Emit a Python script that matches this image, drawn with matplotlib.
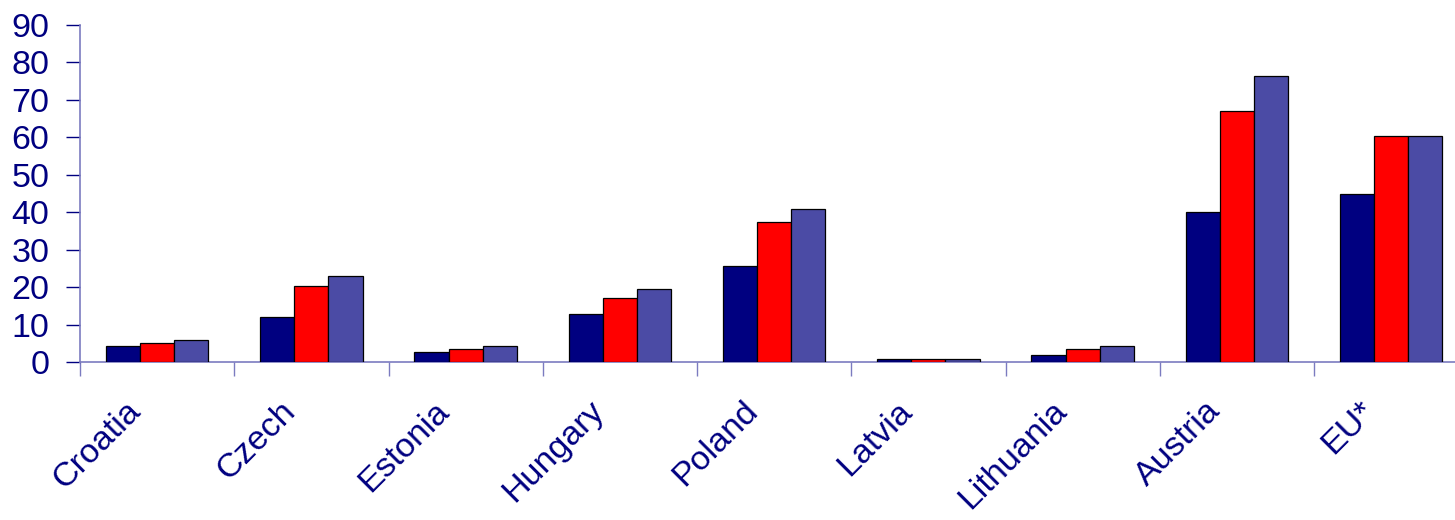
import matplotlib
matplotlib.use("Agg")
import matplotlib.pyplot as plt
from matplotlib.transforms import ScaledTranslation
import numpy as np

categories = ["Croatia", "Czech", "Estonia", "Hungary", "Poland", "Latvia", "Lithuania", "Austria", "EU*"]
series1 = [4.3, 12.0, 2.7, 12.8, 25.6, 0.7, 1.9, 40.0, 45.0]
series2 = [5.1, 20.4, 3.5, 17.1, 37.4, 0.7, 3.5, 67.0, 60.3]
series3 = [5.9, 23.0, 4.3, 19.5, 40.9, 0.7, 4.3, 76.4, 60.3]
yticks = [0, 10, 20, 30, 40, 50, 60, 70, 80, 90]

colors = ["#000080", "#FF0000", "#4B4BA5"]
text_color = "#000080"
spine_color = "#7B7BC0"

plt.rcParams['font.family'] = ['Liberation Sans', 'DejaVu Sans']

fig = plt.figure(figsize=(14.55, 5.2), dpi=100)
ax = fig.add_axes([80/1455, 158/520, 1375/1455, 337/520])

x = np.arange(len(categories))
w = 0.222
for i, (vals, c) in enumerate(zip([series1, series2, series3], colors)):
    ax.bar(x + (i - 1) * w, vals, width=w, color=c, edgecolor="black", linewidth=0.9, zorder=3)

ax.set_yticks(yticks)
ax.set_yticklabels([str(t) for t in yticks])

# major ticks at group boundaries (no labels), minor ticks at centres (labels)
ax.set_xticks(np.arange(len(categories) + 1) - 0.5)
ax.set_xticklabels([])
ax.set_xticks(x, minor=True)
ax.set_xticklabels(categories, minor=True, rotation=45, ha="right", va="center",
                   rotation_mode="anchor", fontsize=24.5, color=text_color)
ax.tick_params(axis="x", which="minor", length=0, pad=32)
ax.tick_params(axis="x", which="major", length=10, width=1, color=spine_color, direction="out")
ax.tick_params(axis="y", length=10, width=1, color=text_color, direction="out",
               labelsize=24.5, labelcolor=text_color, pad=12)

ax.set_ylim(0, 90)
ax.set_xlim(-0.5, -0.5 + 1375/154.25)

offset = ScaledTranslation(-21/100, 0, fig.dpi_scale_trans)
for lab in ax.get_xticklabels(minor=True):
    lab.set_transform(lab.get_transform() + offset)

for s in ["top", "right"]:
    ax.spines[s].set_visible(False)
for s in ["left", "bottom"]:
    ax.spines[s].set_color(spine_color)
    ax.spines[s].set_linewidth(1.2)

fig.savefig("out.png", dpi=100)
